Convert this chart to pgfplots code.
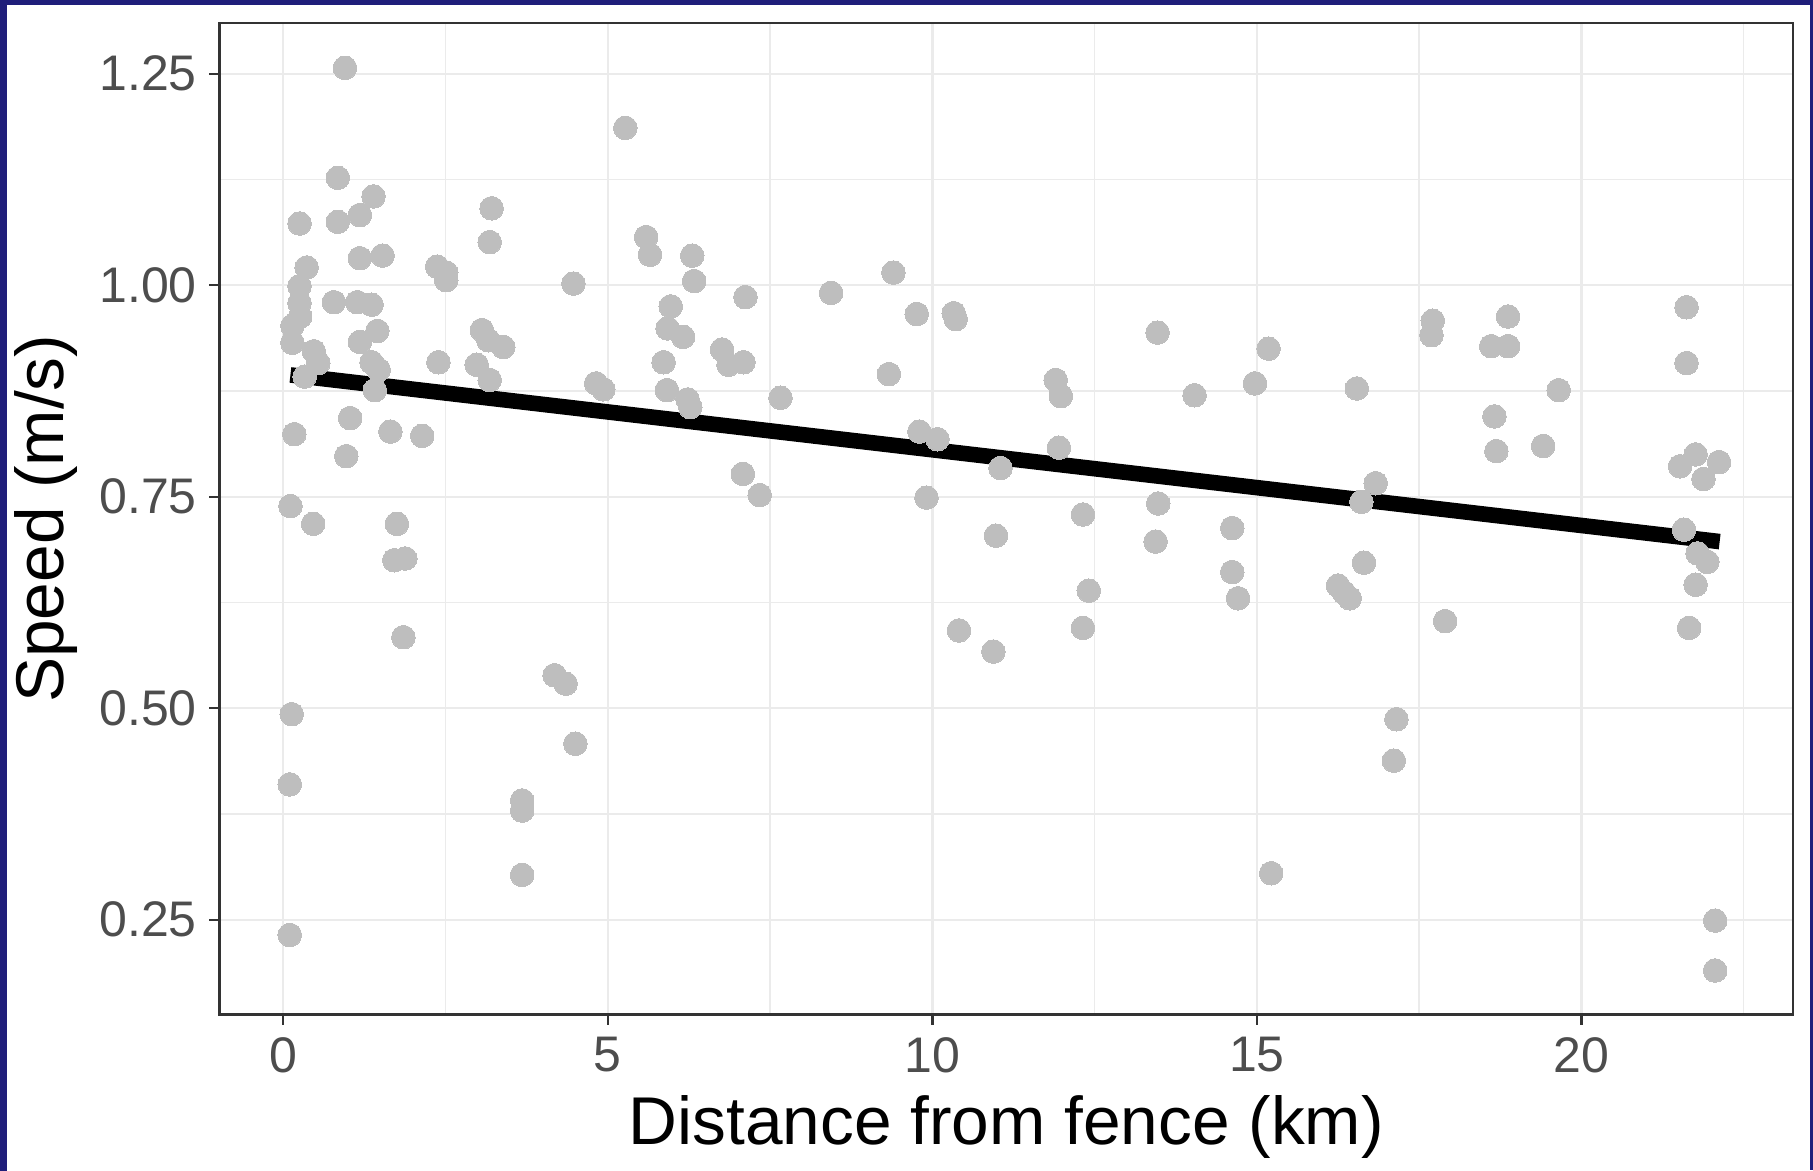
\documentclass[border=0pt]{standalone}
\usepackage{fontspec}
\setmainfont{Liberation Sans}
\usepackage{pgfplots}
\pgfplotsset{compat=1.18}
\definecolor{ptgrey}{RGB}{190,190,190}
\definecolor{gridgrey}{RGB}{235,235,235}
\definecolor{framegrey}{RGB}{51,51,51}
\definecolor{tickgrey}{RGB}{77,77,77}
\definecolor{navy}{RGB}{31,30,122}
\definecolor{brightblue}{RGB}{55,52,210}

\pgfplotstableread{
x y
0.95 1.257
0.84 1.127
1.39 1.105
0.25 1.073
0.84 1.075
1.18 1.083
3.21 1.091
3.18 1.051
1.18 1.032
1.53 1.035
0.36 1.021
2.37 1.022
2.51 1.015
2.51 1.006
4.47 1.002
0.25 0.999
0.25 0.979
0.26 0.963
0.14 0.952
0.14 0.932
0.78 0.980
1.14 0.980
1.36 0.977
1.45 0.946
1.18 0.933
3.06 0.947
3.16 0.935
3.39 0.927
0.47 0.922
0.54 0.908
1.36 0.909
1.47 0.900
2.39 0.909
2.98 0.906
3.18 0.888
0.33 0.892
1.41 0.876
4.82 0.884
4.93 0.877
1.03 0.843
0.17 0.824
1.65 0.827
2.14 0.822
0.97 0.798
0.11 0.739
0.46 0.718
1.75 0.718
1.71 0.675
1.88 0.677
1.85 0.584
0.13 0.493
0.10 0.410
0.10 0.232
4.18 0.539
4.35 0.529
4.50 0.458
3.68 0.391
3.68 0.379
3.68 0.303
5.27 1.186
5.59 1.057
5.65 1.036
6.30 1.035
6.33 1.005
7.12 0.986
8.44 0.991
9.40 1.015
5.97 0.975
5.92 0.949
6.16 0.939
9.76 0.966
10.33 0.967
10.36 0.960
13.47 0.944
5.86 0.909
6.76 0.924
6.86 0.906
7.09 0.909
9.33 0.895
5.91 0.876
6.23 0.865
6.27 0.856
7.66 0.867
11.90 0.888
11.98 0.869
14.04 0.870
9.80 0.827
10.08 0.818
11.95 0.808
11.05 0.784
7.08 0.777
7.34 0.752
9.91 0.749
13.48 0.742
12.32 0.729
10.98 0.704
13.44 0.697
12.41 0.639
10.41 0.592
10.94 0.567
12.32 0.595
17.71 0.958
17.69 0.941
18.87 0.963
18.61 0.928
18.87 0.928
21.62 0.974
21.62 0.908
15.18 0.925
14.97 0.884
16.54 0.878
19.65 0.876
18.66 0.845
18.69 0.804
19.41 0.810
21.52 0.786
21.76 0.800
22.12 0.791
21.88 0.771
16.83 0.766
16.61 0.744
14.62 0.713
14.62 0.661
14.71 0.630
16.25 0.645
16.34 0.637
16.43 0.630
16.65 0.672
17.90 0.603
17.15 0.487
17.11 0.438
15.22 0.305
21.58 0.711
21.79 0.683
21.94 0.673
21.76 0.646
21.66 0.595
22.06 0.249
22.06 0.190
}\speeddata

\begin{document}
\begin{tikzpicture}
% slide frame behind the plot
\fill[navy] (-54.875pt,-38.875pt) rectangle (398.375pt,253.625pt);
\fill[white] (-53.125pt,-38.875pt) rectangle (397.625pt,252.25pt);
\shade[top color=navy,middle color=brightblue,bottom color=navy]
  (-54.875pt,-38.875pt) rectangle (-53.125pt,252.25pt);
\begin{axis}[
  anchor=south west, at={(0pt,0pt)},
  width=393.375pt, height=247.875pt, scale only axis,
  xmin=-0.983, xmax=23.26, ymin=0.138, ymax=1.310,
  xtick={0,5,10,15,20}, minor xtick={2.5,7.5,12.5,17.5,22.5},
  ytick={0.25,0.5,0.75,1,1.25}, minor ytick={0.375,0.625,0.875,1.125},
  yticklabel style={/pgf/number format/.cd,fixed,fixed zerofill,precision=2},
  /pgf/number format/assume math mode=true,
  grid=both,
  major grid style={draw=gridgrey,line width=0.6pt},
  minor grid style={draw=gridgrey,line width=0.35pt},
  axis line style={draw=framegrey,line width=0.6pt},
  tick align=outside, tick pos=left,
  major tick length=2.5pt, minor tick length=0pt,
  tick style={draw=framegrey,line width=0.6pt},
  every tick label/.append style={font=\fontsize{12.5}{15}\selectfont,text=tickgrey,inner sep=3pt},
  xlabel={Distance from fence (km)},
  ylabel={Speed (m/s)},
  xlabel style={font=\fontsize{16.9}{20}\selectfont,at={(axis description cs:0.5,-0.1134)},anchor=center},
  ylabel style={font=\fontsize{16.9}{20}\selectfont,at={(axis description cs:-0.1103,0.5)},anchor=center},
]
\addplot[only marks, mark=*, mark size=2.95pt,
  mark options={draw=ptgrey,fill=ptgrey,line width=0pt}] table[x=x,y=y] {\speeddata};
\addplot[black, line width=3.9pt, line cap=butt] coordinates {(0.11,0.894) (22.13,0.697)};
\end{axis}
\pgfresetboundingbox
\useasboundingbox (-54.875pt,-38.875pt) rectangle (398.375pt,253.625pt);
\end{tikzpicture}
\end{document}
